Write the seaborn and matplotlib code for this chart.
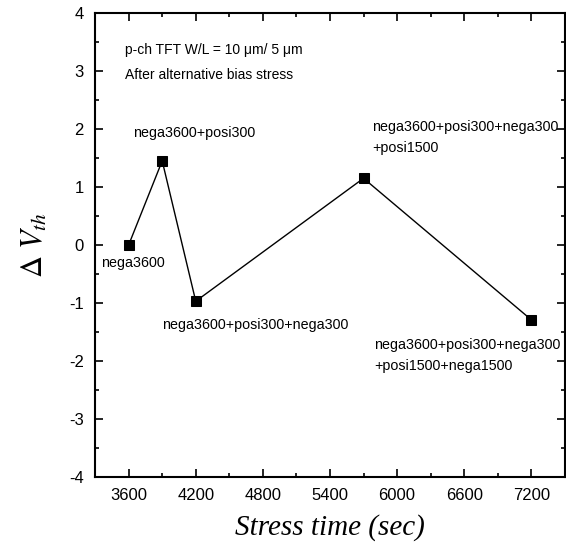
import matplotlib
matplotlib.use("Agg")
import matplotlib.pyplot as plt
from matplotlib.ticker import MultipleLocator
import numpy as np
import pandas as pd
import seaborn as sns

# data
stress_time = [3600, 3900, 4200, 5700, 7200]
delta_vth = [0.0, 1.45, -0.97, 1.15, -1.29]
point_labels = [
    "nega3600",
    "nega3600+posi300",
    "nega3600+posi300+nega300",
    "nega3600+posi300+nega300\n+posi1500",
    "nega3600+posi300+nega300\n+posi1500+nega1500",
]
x_ticks = [3600, 4200, 4800, 5400, 6000, 6600, 7200]
y_ticks = [-4, -3, -2, -1, 0, 1, 2, 3, 4]

sns.set_style("ticks")
plt.rcParams["font.family"] = ["Liberation Sans", "DejaVu Sans"]
plt.rcParams["mathtext.fontset"] = "stix"
plt.rcParams["axes.unicode_minus"] = False
plt.rcParams["text.color"] = "black"
plt.rcParams["axes.labelcolor"] = "black"
plt.rcParams["xtick.color"] = "black"
plt.rcParams["ytick.color"] = "black"
plt.rcParams["axes.edgecolor"] = "black"

df = pd.DataFrame({"t": stress_time, "dv": delta_vth})

fig = plt.figure(figsize=(5.66, 5.48), dpi=100)
ax = fig.add_axes([0.168, 0.1296, 0.830, 0.8467])

sns.lineplot(data=df, x="t", y="dv", ax=ax, color="black", linewidth=1.0,
             marker="s", markersize=6.5, markeredgecolor="black", sort=False)

ax.set_xlim(3300, 7500)
ax.set_ylim(-4, 4)
ax.set_xticks(x_ticks)
ax.set_yticks(y_ticks)
ax.xaxis.set_minor_locator(MultipleLocator(300))
ax.yaxis.set_minor_locator(MultipleLocator(0.5))
ax.tick_params(which="both", direction="in", top=True, right=True, width=1.2)
ax.tick_params(which="major", length=6, labelsize=12, pad=8)
ax.tick_params(which="minor", length=3)
for spine in ax.spines.values():
    spine.set_linewidth(1.5)
    spine.set_visible(True)

ax.set_xlabel("Stress time (sec)", family="Liberation Serif", style="italic",
              fontsize=21, labelpad=8)
ax.set_ylabel(r"$\Delta\ V_{th}$", fontsize=22, labelpad=14)

# header text
ax.text(3570, 3.36, "p-ch TFT W/L = 10 \u03bcm/ 5 \u03bcm", fontsize=10, va="center")
ax.text(3570, 2.93, "After alternative bias stress", fontsize=10, va="center")

# point annotations
kw = dict(fontsize=10.3, va="center", linespacing=1.6)
ax.text(3640, -0.31, point_labels[0], ha="center", **kw)
ax.text(4185, 1.93, point_labels[1], ha="center", **kw)
ax.text(3899, -1.38, point_labels[2], ha="left", **kw)
ax.text(5775, 1.85, point_labels[3], ha="left", **kw)
ax.text(5793, -1.91, point_labels[4], ha="left", **kw)

fig.savefig("out.png", dpi=100)
plt.close(fig)
